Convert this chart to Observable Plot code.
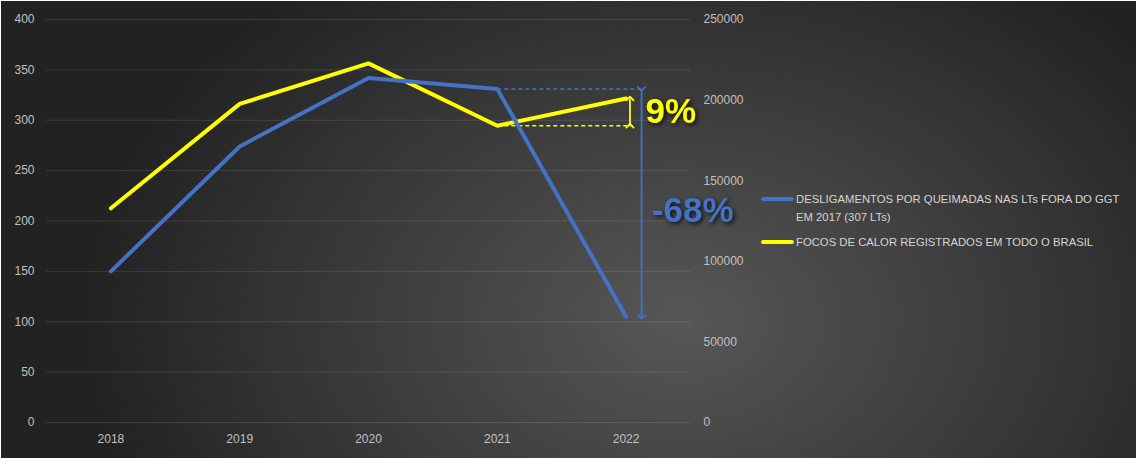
<!DOCTYPE html>
<html>
<head>
<meta charset="utf-8">
<script src="https://cdn.jsdelivr.net/npm/d3@7"></script>
<script src="https://cdn.jsdelivr.net/npm/@observablehq/plot@0.6"></script>
<style>
  html, body { margin: 0; padding: 0; background: #ffffff; }
  #wrap { position: relative; width: 1137px; height: 459px; }
  #chart { position: absolute; left: 1px; top: 1px; }
  .pct { filter: drop-shadow(2px 2px 2px rgba(0,0,0,0.75)); }
  #legend { position: absolute; left: 761px; top: 190px; font-family: "Liberation Sans", Arial, sans-serif; font-size: 11.3px; color: #d4d4d4; }
  .item { display: flex; align-items: flex-start; margin-bottom: 7px; }
  .sw { width: 33px; height: 4px; border-radius: 2px; margin-top: 7px; margin-right: 2px; flex: none; }
  .lbl { width: 340px; line-height: 18px; }
</style>
</head>
<body>
<div id="wrap"><div id="chart"></div><div id="legend"></div></div>
<script>
const years = [2018, 2019, 2020, 2021, 2022];
const desligamentos = [150, 274, 342, 331, 105];
const focos = [132872, 197632, 222798, 184081, 200976];
const leftTicks = [0, 50, 100, 150, 200, 250, 300, 350, 400];
const rightTicks = [0, 50000, 100000, 150000, 200000, 250000];
const seriesNames = ["DESLIGAMENTOS POR QUEIMADAS NAS LTs FORA DO GGT EM 2017 (307 LTs)", "FOCOS DE CALOR REGISTRADOS EM TODO O BRASIL"];
const changeLabels = ["-68%", "9%"];

const BLUE = "#4472c4", YELLOW = "#ffff00";
const k = 400 / 250000; // right axis -> left axis units
const rows = years.map((year, i) => ({year, desl: desligamentos[i], focosL: focos[i] * k}));
const n = years.length;
const d21 = rows[n - 2], d22 = rows[n - 1];

const font = "Liberation Sans, Arial, sans-serif";
const chart = Plot.plot({
  width: 1135, height: 457,
  marginLeft: 45, marginRight: 446, marginTop: 18, marginBottom: 36,
  style: {
    background: "radial-gradient(ellipse 600px 430px at 680px 320px, #575757 0%, #3a3a3a 55%, #222222 100%)",
    fontFamily: font, fontSize: "12px", color: "#c0c0c0"
  },
  x: {domain: [2017.5, 2022.5], axis: null, label: null},
  y: {domain: [0, 400], axis: null, label: null},
  marks: [
    Plot.gridY(leftTicks, {stroke: "#ffffff", strokeOpacity: 0.11, strokeWidth: 1}),
    Plot.axisY(leftTicks, {anchor: "left", tickSize: 0, tickPadding: 12, fill: "#c0c0c0", fontSize: 12, label: null}),
    Plot.axisY(rightTicks.map(v => v * k), {anchor: "right", tickSize: 0, tickPadding: 13, textAnchor: "start", tickFormat: d => String(Math.round(d / k)), fill: "#c0c0c0", fontSize: 12, label: null}),
    Plot.axisX(years, {anchor: "bottom", tickSize: 0, tickPadding: 12, tickFormat: d => String(d), fill: "#c0c0c0", fontSize: 12, label: null}),
    // reference dashed lines
    Plot.link([d21], {x1: "year", x2: d => d.year + 1.12, y1: "desl", y2: "desl", stroke: BLUE, strokeWidth: 1.5, strokeDasharray: "4,3"}),
    Plot.link([d21], {x1: "year", x2: d => d.year + 1.05, y1: "focosL", y2: "focosL", stroke: YELLOW, strokeWidth: 1.5, strokeDasharray: "4,3"}),
    // series lines
    Plot.line(rows, {x: "year", y: "focosL", stroke: YELLOW, strokeWidth: 4, strokeLinejoin: "miter", strokeLinecap: "round"}),
    Plot.line(rows, {x: "year", y: "desl", stroke: BLUE, strokeWidth: 4, strokeLinejoin: "miter", strokeLinecap: "round"}),
    // double arrows
    Plot.link([0], {x1: () => d22.year + 0.12, x2: () => d22.year + 0.12, y1: () => d21.desl, y2: () => d22.desl, stroke: BLUE, strokeWidth: 1.8, markerStart: "arrow", markerEnd: "arrow"}),
    Plot.link([0], {x1: () => d22.year + 0.03, x2: () => d22.year + 0.03, y1: () => d21.focosL, y2: () => d22.focosL, stroke: YELLOW, strokeWidth: 1.8, markerStart: "arrow", markerEnd: "arrow"}),
    // percentage labels
    Plot.text([0], {x: () => d22.year + 0.15, y: () => (d21.focosL + d22.focosL) / 2, text: () => changeLabels[1], fill: YELLOW, fontSize: 35, fontWeight: "bold", textAnchor: "start", className: "pct"}),
    Plot.text([0], {x: () => d22.year + 0.2, y: () => (d21.desl + d22.desl) / 2, dy: 8, text: () => changeLabels[0], fill: BLUE, fontSize: 35, fontWeight: "bold", textAnchor: "start", className: "pct"})
  ]
});
document.getElementById("chart").appendChild(chart);

const legend = document.getElementById("legend");
[BLUE, YELLOW].forEach((c, i) => {
  const item = document.createElement("div");
  item.className = "item";
  const sw = document.createElement("div");
  sw.className = "sw"; sw.style.background = c;
  const lbl = document.createElement("div");
  lbl.className = "lbl"; lbl.textContent = seriesNames[i];
  item.appendChild(sw); item.appendChild(lbl);
  legend.appendChild(item);
});
</script>
</body>
</html>
